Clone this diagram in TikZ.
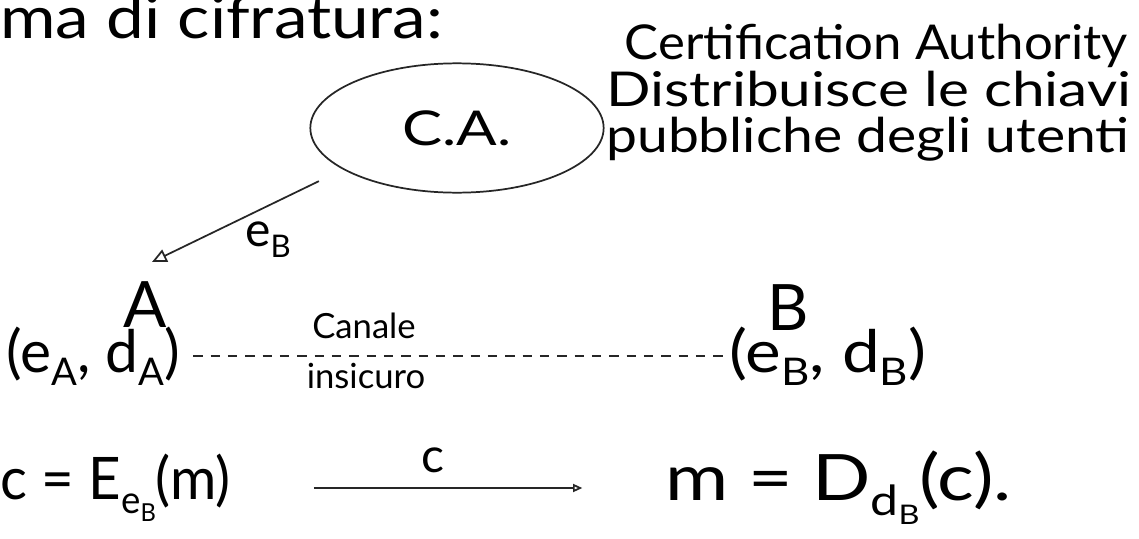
\documentclass[tikz,border=0pt]{standalone}
\usepackage{fontspec}
\setmainfont{Lato}
\usetikzlibrary{shapes.geometric,arrows.meta}
\newcommand{\lowsub}[1]{\raisebox{-0.45ex}{\fontsize{0.65em}{0.65em}\selectfont #1}}
\tikzset{
  ink/.style={line width=1.3pt, draw=black!85},
  hugetxt/.style={font=\fontsize{48}{48}\selectfont, inner sep=0pt},
  bigtxt/.style={font=\fontsize{44}{44}\selectfont, inner sep=0pt},
  midtxt/.style={font=\fontsize{36}{35}\selectfont, inner sep=0pt},
  smalltxt/.style={font=\fontsize{26}{26}\selectfont, inner sep=0pt},
  opentip/.style={-{Triangle[open,length=11pt,width=10pt]}},
  smalltip/.style={-{Triangle[open,length=7pt,width=6pt]}},
}
\begin{document}
\begin{tikzpicture}[x=0.75pt,y=-0.75pt]
\useasboundingbox (0,0) rectangle (1139,539);
\fill[white] (0,0) rectangle (1139,539);
\clip (0,0) rectangle (1139,539);
% title fragment (cut off at top, as in the reference)
\node[bigtxt, anchor=base west] (title) at (0,38) {\scalebox{1.15}[1]{ma di cifratura:}};
% certification authority
\node[ink, draw, ellipse, minimum width=220pt, minimum height=97pt, inner sep=0pt] (ca) at (457,128) {};
\node[midtxt] (calabel) at (457,128) {\scalebox{1.25}[1]{C.A.}};
\node[midtxt, align=left, anchor=north west] (cadesc) at (606,24) {\hspace*{14pt}\scalebox{1.06}[1]{Certification Authority}\\\scalebox{1.22}[1]{Distribuisce le chiavi}\\\scalebox{1.15}[1]{pubbliche degli utenti}};
\coordinate (tipA) at (152,262);
\draw[ink, opentip, shorten <=20pt] (ca.200) -- (tipA);
\node[midtxt] (eB) at (268,240) {e\lowsub{B}};
% users
\node[hugetxt] (A) at (145,305) {A};
\node[bigtxt] (keysA) at (93,356) {(e\lowsub{A}, d\lowsub{A})};
\node[hugetxt] (B) at (788,308) {B};
\node[bigtxt] (keysB) at (828,356) {\scalebox{1.15}[1]{(e\lowsub{B}, d\lowsub{B})}};
\draw[ink, line width=1pt, dash pattern=on 7pt off 6pt, shorten <=10pt, shorten >=4pt] (keysA.east) -- (keysB.west);
\node[smalltxt] (canale) at (364,326) {Canale};
\node[smalltxt] (insicuro) at (366,376) {insicuro};
% encryption / decryption
\node[bigtxt, anchor=west] (enc) at (0,488) {\scalebox{0.96}[1]{c = E\lowsub{e\lowsub{B}}(m)}};
\node[hugetxt, anchor=west] (dec) at (665,488) {\scalebox{1.2}[1]{m = D\lowsub{d\lowsub{B}}(c).}};
\draw[ink, smalltip, shorten <=62pt, shorten >=62pt] (enc.east) -- (dec.west);
\node[midtxt] (clab) at (433,460) {c};
\end{tikzpicture}
\end{document}
